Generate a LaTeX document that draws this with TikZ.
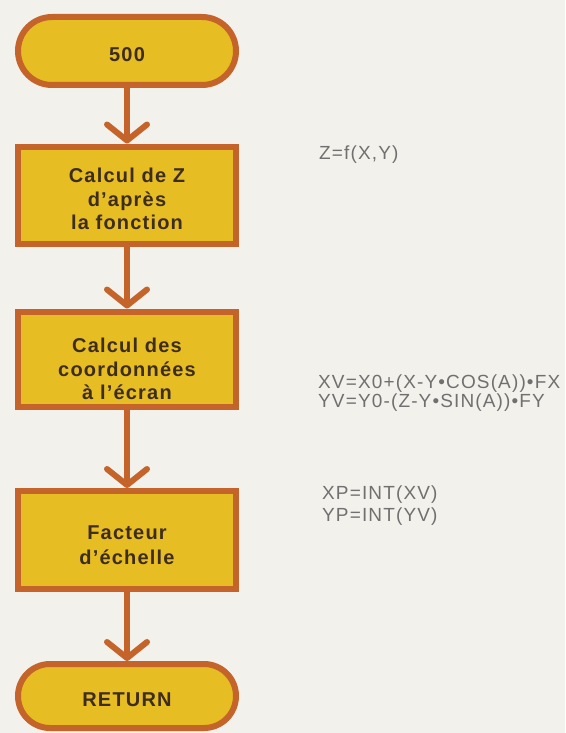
\documentclass[tikz,border=0pt]{standalone}
\usepackage{fontspec}
\usetikzlibrary{arrows.meta}
\newfontfamily\boxfont[LetterSpace=6]{Liberation Sans}
\newfontfamily\notefont[LetterSpace=6]{Liberation Sans}

\definecolor{paper}{HTML}{F3F1EB}
\definecolor{boxfill}{HTML}{E6BD22}
\definecolor{boxline}{HTML}{C4632A}
\definecolor{boxtext}{HTML}{3E2C1C}
\definecolor{notetext}{HTML}{707070}

\tikzset{
  stepbox/.style={draw=boxline, fill=boxfill, line width=6pt,
    minimum width=218pt, inner sep=0pt},
  termbox/.style={stepbox, minimum height=68pt, rounded corners=34pt},
  boxlabel/.style={text=boxtext, align=center, inner sep=0pt,
    font=\boxfont\bfseries\fontsize{20}{23.5}\selectfont},
  flow/.style={draw=boxline, line width=6pt,
    -{Straight Barb[round, length=16pt, width=40pt]}},
  note/.style={text=notetext, anchor=west, align=left, inner sep=0pt,
    font=\notefont\fontsize{19}{19}\selectfont}
}

\begin{document}
\begin{tikzpicture}[x=1pt, y=-1pt]
  \fill[paper] (0,0) rectangle (565,733);
  \useasboundingbox (0,0) rectangle (565,733);

  % flowchart boxes
  \node[termbox] (start) at (127,51) {};
  \node[stepbox, minimum height=97pt] (calc) at (127,195) {};
  \node[stepbox, minimum height=95pt] (coord) at (127,359) {};
  \node[stepbox, minimum height=98pt] (scale) at (127,540) {};
  \node[termbox, minimum height=64pt, rounded corners=32pt] (ret) at (127,696) {};

  % box texts
  \node[boxlabel] (startT) at (127,55) {500};
  \node[boxlabel] (calcT) at (127,199) {Calcul de Z\\d’après\\la fonction};
  \node[boxlabel] (coordT) at (127,369) {Calcul des\\coordonnées\\à l’écran};
  \node[boxlabel, font=\boxfont\bfseries\fontsize{20}{25}\selectfont] (scaleT)
    at (127,545) {Facteur\\d’échelle};
  \node[boxlabel] (retT) at (127,700) {RETURN};

  % connectors
  \draw[flow] (start.south) -- (calc.north);
  \draw[flow] (calc.south) -- (coord.north);
  \draw[flow] (coord.south) -- (scale.north);
  \draw[flow] (scale.south) -- (ret.north);

  % formulas beside the steps
  \node[note] (fz) at (319,155) {Z=f(X,Y)};
  \node[note, font=\notefont\fontsize{19}{18.5}\selectfont] (fxy) at (318,393)
    {XV=X0+(X-Y•COS(A))•FX\\YV=Y0-(Z-Y•SIN(A))•FY};
  \node[note, font=\notefont\fontsize{19}{22}\selectfont] (fp) at (322,506)
    {XP=INT(XV)\\YP=INT(YV)};
\end{tikzpicture}
\end{document}
